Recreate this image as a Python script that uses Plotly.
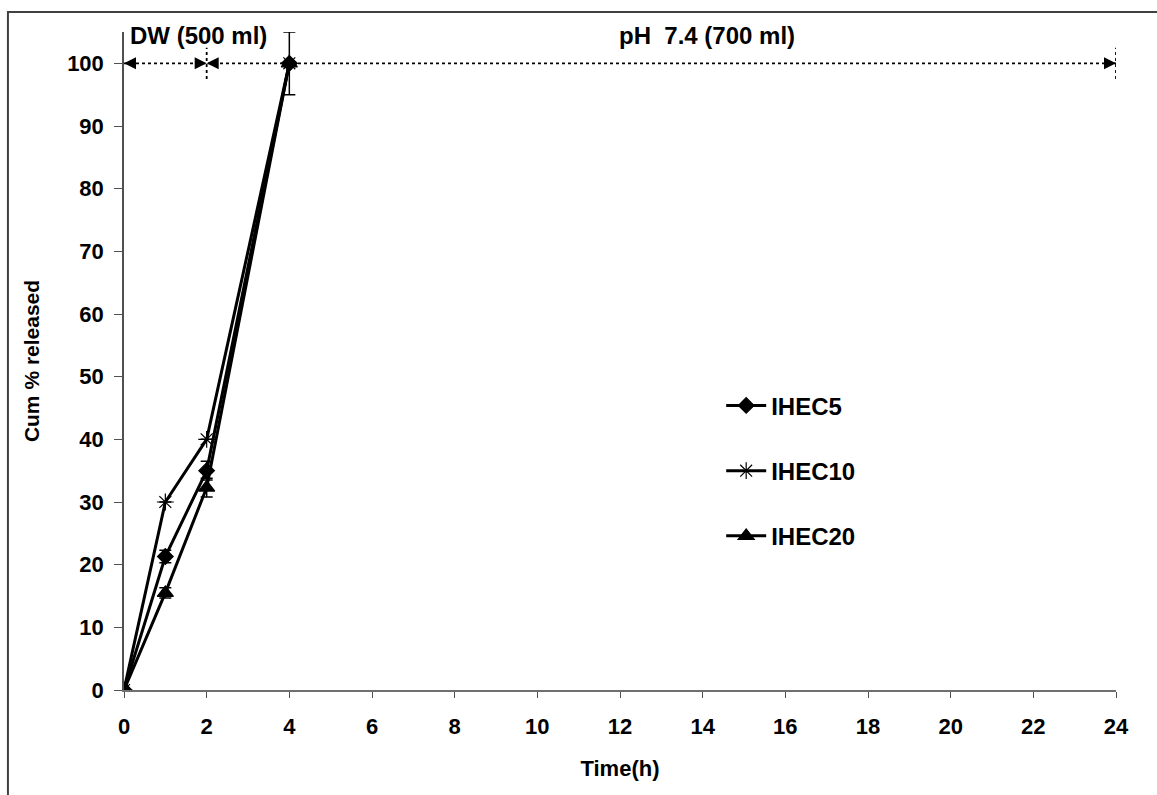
import plotly.graph_objects as go

time_h = [0, 1, 2, 4]
ihec5 = [0, 21.3, 35.0, 100]
ihec5_err = [0, 1.0, 1.5, 5.0]
ihec10 = [0, 30.0, 40.0, 100]
ihec10_err = [0, 0, 0, 0]
ihec20 = [0, 15.5, 32.3, 100]
ihec20_err = [0, 0.8, 1.5, 0]

phase_bounds = [0, 2, 24]
phase_level = 100
phase_labels = ["DW (500 ml)", "pH&nbsp; 7.4 (700 ml)"]
phase_label_x = [1.8, 14.1]

x_ticks = list(range(0, 25, 2))
y_ticks = list(range(0, 101, 10))

FONT = "Liberation Sans"

fig = go.Figure()

series = [
    ("IHEC5", ihec5, ihec5_err, "diamond", 12),
    ("IHEC10", ihec10, ihec10_err, "asterisk-open", 14),
    ("IHEC20", ihec20, ihec20_err, "triangle-up", 14),
]
for name, y, err, sym, size in series:
    fig.add_trace(go.Scatter(
        x=time_h, y=y, name=name, mode="lines+markers",
        line=dict(color="black", width=3),
        marker=dict(symbol=sym, size=size, color="black",
                    line=dict(color="black", width=1.2)),
        error_y=dict(type="data", array=err, visible=True, color="black",
                     thickness=1.5, width=6),
        legendgroup=name,
    ))

# dotted phase line
fig.add_trace(go.Scatter(
    x=[phase_bounds[0], phase_bounds[-1]], y=[phase_level, phase_level],
    mode="lines", line=dict(color="black", width=1.8, dash="dot"),
    showlegend=False, hoverinfo="skip"))

shapes = []
for xb in phase_bounds[1:]:
    shapes.append(dict(type="line", xref="x", yref="y", x0=xb, x1=xb,
                       y0=phase_level - 2.5, y1=phase_level + 2.5,
                       line=dict(color="black", width=1.8, dash="dot")))
# outer frame
shapes.append(dict(type="rect", xref="paper", yref="paper",
                   x0=-0.117, x1=1.06, y0=-0.25, y1=1.0304,
                   line=dict(color="#404040", width=2)))

annotations = []
heads = [(phase_bounds[0], 12), (phase_bounds[1], -12), (phase_bounds[1], 12), (phase_bounds[2], -12)]
for xh, ax in heads:
    annotations.append(dict(x=xh, y=phase_level, xref="x", yref="y",
                            ax=ax, ay=0, axref="pixel", ayref="pixel",
                            showarrow=True, arrowhead=2, arrowsize=1.6,
                            arrowwidth=1.5, arrowcolor="black", text=""))
for lab, lx in zip(phase_labels, phase_label_x):
    annotations.append(dict(x=lx, y=104.4, xref="x", yref="y", text="<b>%s</b>" % lab,
                            showarrow=False, font=dict(family=FONT, size=24, color="black")))

fig.update_layout(
    width=1157, height=795,
    margin=dict(l=124, r=41, t=32, b=105),
    paper_bgcolor="white", plot_bgcolor="white",
    font=dict(family=FONT, size=22, color="black"),
    shapes=shapes, annotations=annotations,
    legend=dict(x=0.602, y=0.466, xanchor="left", yanchor="top",
                font=dict(family=FONT, size=24, color="black", weight="bold"),
                tracegroupgap=31, bgcolor="rgba(0,0,0,0)", itemwidth=40),
    showlegend=True,
)
fig.update_xaxes(range=[0, 24], tickvals=x_ticks, ticktext=["<b>%d</b>" % v for v in x_ticks],
                 showline=True, linecolor="#707070", linewidth=1.5, ticks="outside",
                 tickcolor="#505050", ticklen=6, showgrid=False, zeroline=False,
                 ticklabelstandoff=10,
                 title=dict(text="<b>Time(h)</b>", font=dict(size=22), standoff=22))
fig.update_yaxes(range=[0, 105], tickvals=y_ticks, ticktext=["<b>%d</b>" % v for v in y_ticks],
                 showline=True, linecolor="#505050", linewidth=1.5, ticks="outside",
                 tickcolor="#505050", ticklen=8, showgrid=False, zeroline=False,
                 ticklabelstandoff=6,
                 title=dict(text="<b>Cum % released</b>", font=dict(size=21), standoff=22))

fig.write_html("out.html")
